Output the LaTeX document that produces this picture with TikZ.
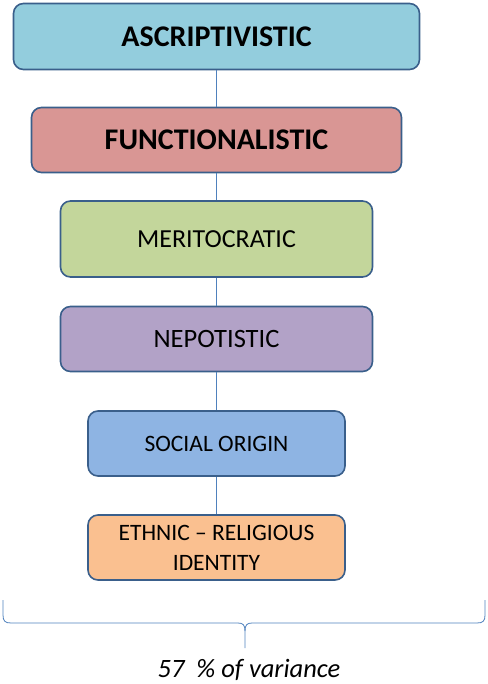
\documentclass[tikz,border=0pt]{standalone}
\usepackage{fontspec}
\setmainfont{Carlito}
\usepackage{tikz}

\definecolor{boxline}{HTML}{3A5F8B}
\definecolor{linkblue}{HTML}{4F81BD}
\definecolor{ascfill}{HTML}{93CDDD}
\definecolor{funfill}{HTML}{D99694}
\definecolor{merfill}{HTML}{C3D69B}
\definecolor{nepfill}{HTML}{B2A2C7}
\definecolor{socfill}{HTML}{8EB4E3}
\definecolor{ethfill}{HTML}{FAC090}

\tikzset{
	box/.style={draw=boxline,line width=1.6pt,rounded corners=10pt,align=center,text=black,inner sep=0pt},
	link/.style={draw=linkblue,line width=0.8pt}
}

\begin{document}
\begin{tikzpicture}[x=1pt,y=-1pt]
\useasboundingbox (0,0) rectangle (487,684);
\node (asc) [box,fill=ascfill,minimum width=406pt,minimum height=66pt,font=\fontsize{30}{32}\selectfont\bfseries] at (216.5,36.5) {ASCRIPTIVISTIC};
\node (fun) [box,fill=funfill,minimum width=370pt,minimum height=65pt,font=\fontsize{30}{32}\selectfont\bfseries] at (216.5,140) {FUNCTIONALISTIC};
\node (mer) [box,fill=merfill,minimum width=312pt,minimum height=76pt,font=\fontsize{26}{28}\selectfont] at (216.5,239) {MERITOCRATIC};
\node (nep) [box,fill=nepfill,minimum width=312pt,minimum height=65pt,font=\fontsize{26.5}{28}\selectfont] at (216.5,339) {NEPOTISTIC};
\node (soc) [box,fill=socfill,minimum width=257pt,minimum height=65pt,font=\fontsize{23.5}{30}\selectfont] at (216.5,443.5) {SOCIAL ORIGIN};
\node (eth) [box,fill=ethfill,minimum width=257pt,minimum height=65pt,font=\fontsize{23.5}{30}\selectfont] at (216.5,547.5) {ETHNIC -- RELIGIOUS\\IDENTITY};
\foreach \a/\b in {asc/fun,fun/mer,mer/nep,nep/soc,soc/eth}{
	\draw[link] (\a) -- (\b);
}
\draw[link] (3,600) -- (3,615) .. controls (3,621) and (5,623) .. (11,623) -- (238,623) .. controls (243,623) and (245,625) .. (245,631) -- (245,648);
\draw[link] (485,600) -- (485,615) .. controls (485,621) and (483,623) .. (477,623) -- (252,623) .. controls (247,623) and (245,625) .. (245,631);
\node (var) at (249,670) {\fontsize{26.5}{28}\selectfont\itshape 57\ \ \% of variance};
\end{tikzpicture}
\end{document}
